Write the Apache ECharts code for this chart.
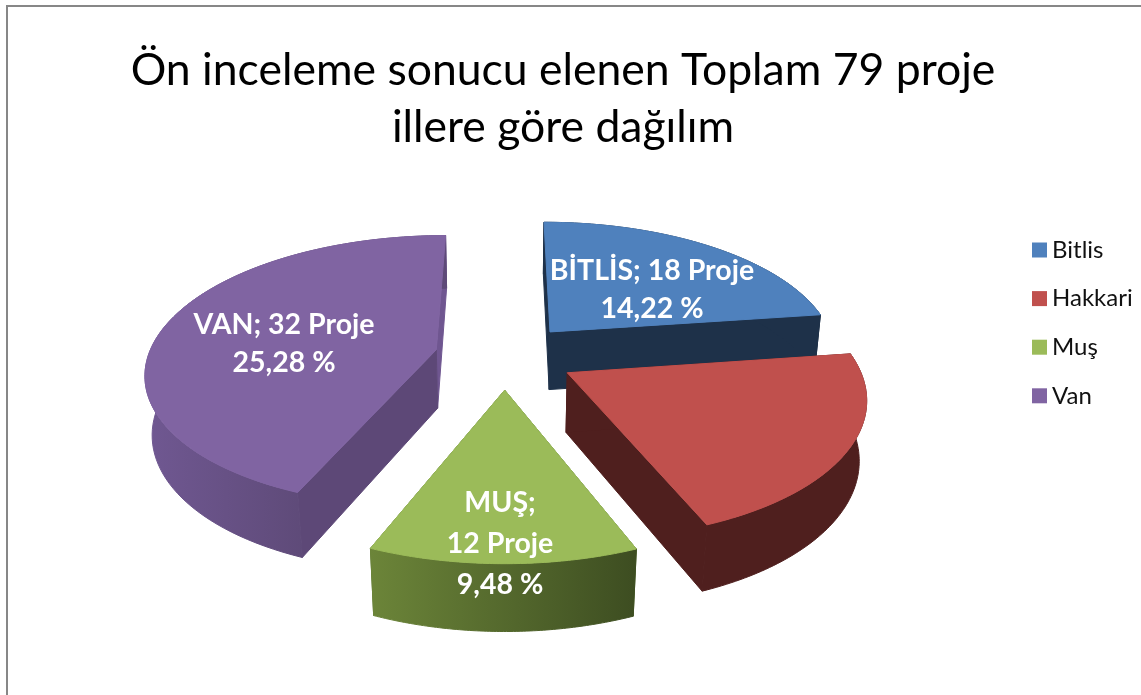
<!DOCTYPE html>
<html>
<head>
<meta charset="utf-8">
<script src="https://cdn.jsdelivr.net/npm/echarts@6/dist/echarts.min.js"></script>
<style>
    html, body { margin: 0; padding: 0; background: #fff; }
    #chart { width: 1141px; height: 695px; }
</style>
</head>
<body>
<div id="chart"></div>
<script>
let titleLines = ["Ön inceleme sonucu elenen Toplam 79 proje", "illere göre dağılım"];
let sliceNames = ["Bitlis", "Hakkari", "Muş", "Van"];
let sliceValues = [18, 16.7, 9.7, 34.6];
let sliceLabels = ["BİTLİS; 18 Proje\n14,22 %", null, "MUŞ;\n12 Proje\n9,48 %", "VAN; 32 Proje\n25,28 %"];

let labelSpots = [[652, 290], null, [500, 544], [284, 344]];
let topColors = ["#4f81bd", "#c0504d", "#9bbb59", "#8064a2"];
let sideColors = ["#1e3149", "#4f1f1e", "#55702f", "#5d4877"];
let endColors = ["#1e3149", "#4f1f1e", "#55702f", "#6f5690"];
let rimStops = [null, null,
    [[0, "#6c8539"], [1, "#3d4d21"]],
    [[0, "#705892"], [0.54, "#5e4a78"], [1, "#5e4a78"]]];

// the tilted pie, in unit circle coordinates
const CX = 505, CY = 356, RX = 288, RY = 134, DEPTH = 60;
const PERSP = 0.158, PERSP_Z = 0.02, EXPLODE = 0.245;

function project(px, py, z) {
    let s = 1 / (1 + PERSP * py + PERSP_Z * z);
    return [CX + RX * px * s, CY - RY * py * s + DEPTH * z * s];
}

let total = sliceValues.reduce((a, b) => a + b, 0);
let acc = 0;
let sliceAngles = sliceValues.map(v => {
    let start = acc;
    acc += v;
    return [start / total * 2 * Math.PI, acc / total * 2 * Math.PI];
});

function renderSlice(index) {
    return function (params, api) {
        let start = api.value(0), end = api.value(1);
        let mid = (start + end) / 2;
        let ox = EXPLODE * Math.sin(mid), oy = EXPLODE * Math.cos(mid);
        let rim = z => {
            let pts = [];
            for (let i = 0; i <= 80; i++) {
                let t = start + (end - start) * i / 80;
                pts.push(project(ox + Math.sin(t), oy + Math.cos(t), z));
            }
            return pts;
        };
        let apex = z => project(ox, oy, z);
        let topRim = rim(0), lowRim = rim(1);
        let rimFill = rimStops[index]
            ? new echarts.graphic.LinearGradient(0, 0, 1, 0, rimStops[index].map(s => ({offset: s[0], color: s[1]})))
            : sideColors[index];
        let face = (pts, fill) => ({
            type: "polygon",
            shape: {points: pts},
            style: {fill: fill, stroke: fill, lineWidth: 1}
        });
        let children = [
            face([apex(0), topRim[80], lowRim[80], apex(1)], endColors[index]),
            face([apex(0), topRim[0], lowRim[0], apex(1)], sideColors[index]),
            face(topRim.concat(lowRim.slice().reverse()), rimFill),
            face([apex(0)].concat(topRim), topColors[index])
        ];
        if (sliceLabels[index]) {
            children.push({
                type: "text",
                style: {
                    x: labelSpots[index][0],
                    y: labelSpots[index][1],
                    text: sliceLabels[index],
                    fill: "#fff",
                    font: "bold 28.5px Lato",
                    lineHeight: index === 2 ? 41 : 38,
                    align: "center",
                    verticalAlign: "middle"
                }
            });
        }
        return {type: "group", children: children};
    };
}

var myChart = echarts.init(document.getElementById("chart"), null, {renderer: "canvas"});
myChart.setOption({
    animation: false,
    title: {
        text: titleLines.join("\n"),
        left: 558,
        top: 37,
        textAlign: "center",
        textStyle: {
            fontFamily: "Lato",
            fontWeight: "normal",
            fontSize: 44.5,
            lineHeight: 57,
            color: "#000"
        }
    },
    legend: {
        orient: "vertical",
        left: 1027,
        top: 233,
        icon: "rect",
        itemWidth: 15,
        itemHeight: 15,
        itemGap: 24.6,
        data: sliceNames,
        textStyle: {fontFamily: "Lato", fontSize: 24, color: "#111", padding: 0, lineHeight: 15}
    },
    graphic: [{
        type: "rect",
        silent: true,
        shape: {x: 7, y: 6, width: 1300, height: 900},
        style: {fill: "none", stroke: "#878787", lineWidth: 2}
    }],
    series: sliceNames.map((name, i) => ({
        type: "custom",
        name: name,
        coordinateSystem: "none",
        silent: true,
        itemStyle: {color: topColors[i]},
        renderItem: renderSlice(i),
        data: [sliceAngles[i]]
    }))
});
</script>
</body>
</html>
